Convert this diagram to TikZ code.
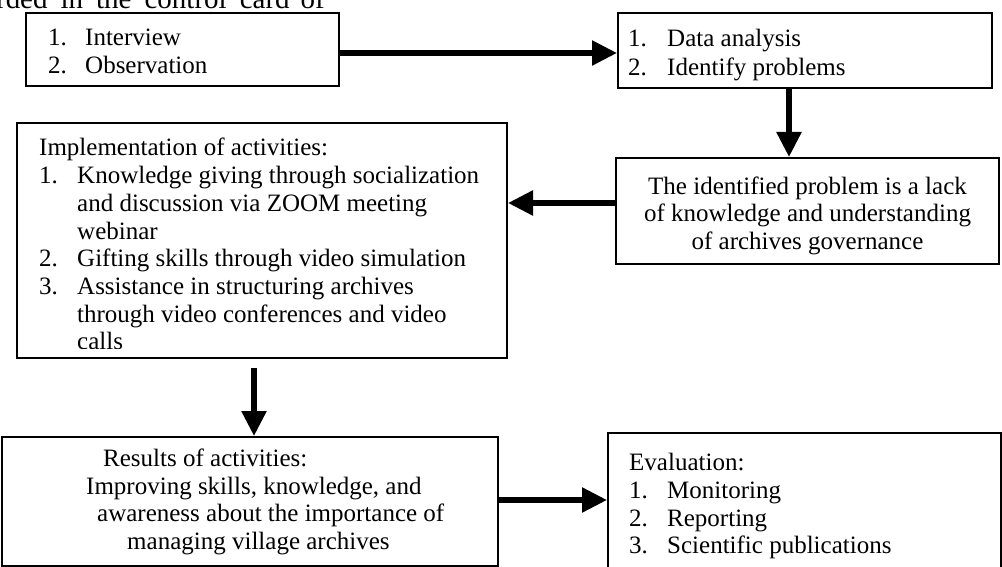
\documentclass[tikz,border=0pt]{standalone}
\usepackage{fontspec}
\setmainfont{Liberation Serif}
\usetikzlibrary{arrows.meta}
\begin{document}
\begin{tikzpicture}[x=1pt,y=-1pt,
  box/.style={draw, line width=2pt, inner sep=0pt},
  txt/.style={anchor=base west, inner sep=0pt, font=\fontsize{25}{27.5}\selectfont},
  ctxt/.style={anchor=base, inner sep=0pt, font=\fontsize{25}{27.5}\selectfont},
  arr/.style={line width=5.5pt, -{Triangle[length=25pt,width=24pt]}}
]
\useasboundingbox (0,0) rectangle (1002,567);

% cut-off text from the page above
\node[anchor=base east, inner sep=0pt, font=\fontsize{29}{32}\selectfont] (frag) at (325,8.5) {recorded\hspace{13pt}in\hspace{13pt}the\hspace{13pt}control\hspace{13pt}card\hspace{11pt}of};

% boxes
\node[box, minimum width=313pt, minimum height=73pt] (b1) at (182.5,49.5) {};
\node[box, minimum width=374pt, minimum height=75pt] (b2) at (805,50.5) {};
\node[box, minimum width=383pt, minimum height=106pt] (b3) at (807.5,211) {};
\node[box, minimum width=490pt, minimum height=235pt] (b4) at (262,240.5) {};
\node[box, minimum width=496.5pt, minimum height=129pt] (b5) at (249.75,501.5) {};
\node[box, minimum width=393pt, minimum height=150pt] (b6) at (804.5,508) {};

% box 1
\node[txt] (b1n1) at (48,45.7) {1.};
\node[txt] (b1t1) at (85,45.7) {Interview};
\node[txt] (b1n2) at (48,74) {2.};
\node[txt] (b1t2) at (85,74) {Observation};

% box 2
\begin{scope}
\clip (619,14) rectangle (991,80.5);
\node[txt] (b2n1) at (628,47) {1.};
\node[txt] (b2t1) at (667,47) {Data analysis};
\node[txt] (b2n2) at (628,76) {2.};
\node[txt] (b2t2) at (667,76) {Identify problems};
\end{scope}

% box 3
\node[ctxt] (b3l1) at (807.5,194) {The identified problem is a lack};
\node[ctxt] (b3l2) at (807.5,221.5) {of knowledge and understanding};
\node[ctxt] (b3l3) at (807.5,249) {of archives governance};

% box 4
\begin{scope}
\clip (18,124) rectangle (506,348.3);
\node[txt] (b4h) at (39,156) {Implementation of activities:};
\node[txt] (b4n1) at (39,183.7) {1.};
\node[txt] (b4t1) at (77,183.7) {Knowledge giving through socialization};
\node[txt] (b4t1b) at (77,211.4) {and discussion via ZOOM meeting};
\node[txt] (b4t1c) at (77,239.1) {webinar};
\node[txt] (b4n2) at (39,266.8) {2.};
\node[txt] (b4t2) at (77,266.8) {Gifting skills through video simulation};
\node[txt] (b4n3) at (39,294.5) {3.};
\node[txt] (b4t3) at (77,294.5) {Assistance in structuring archives};
\node[txt] (b4t3b) at (77,322.2) {through video conferences and video};
\node[txt] (b4t3c) at (77,349.9) {calls};
\end{scope}

% box 5
\begin{scope}
\clip (2.5,438) rectangle (497,558.3);
\node[txt] (b5l1) at (103,466) {Results of activities:};
\node[txt] (b5l2) at (86,494) {Improving skills, knowledge, and};
\node[txt] (b5l3) at (97,521.5) {awareness about the importance of};
\node[txt] (b5l4) at (127,549) {managing village archives};
\end{scope}

% box 6
\node[txt] (b6h) at (629,470) {Evaluation:};
\node[txt] (b6n1) at (629,498) {1.};
\node[txt] (b6t1) at (667,498) {Monitoring};
\node[txt] (b6n2) at (629,526) {2.};
\node[txt] (b6t2) at (667,526) {Reporting};
\node[txt] (b6n3) at (629,553) {3.};
\node[txt] (b6t3) at (667,553) {Scientific publications};

% connectors
\draw[arr] ([yshift=-3.5pt]b1.east) -- ([yshift=-2.5pt]b2.west);
\draw[arr] ([xshift=-16pt]b2.south) -- ([xshift=-18.5pt]b3.north);
\draw[arr] ([yshift=8pt]b3.west) -- ([yshift=37.5pt]b4.east);
\draw[arr, shorten <=9pt] ([xshift=-8pt]b4.south) -- ([xshift=4.25pt]b5.north);
\draw[arr] ([yshift=1.5pt]b5.east) -- ([yshift=8pt]b6.west);
\end{tikzpicture}
\end{document}
